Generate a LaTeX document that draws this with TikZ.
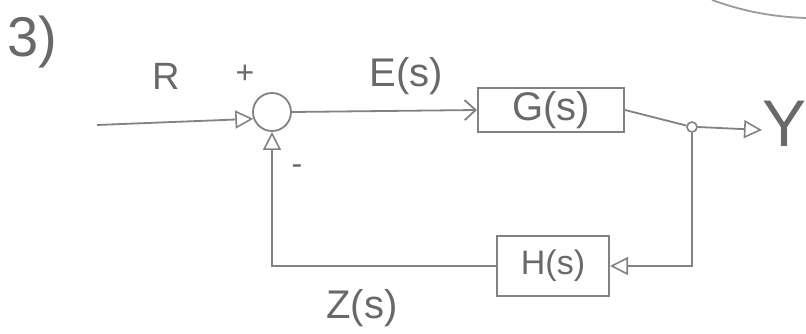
\documentclass[tikz,border=0pt]{standalone}
\usepackage{fontspec}
\setmainfont{Liberation Sans}
\usetikzlibrary{arrows.meta}
\definecolor{pencil}{RGB}{130,130,130}
\definecolor{pencilText}{RGB}{105,105,105}
\begin{document}
\begin{tikzpicture}[x=1pt,y=-1pt,
  line/.style={draw=pencil, line width=1.8pt},
  tri/.style={-{Triangle[open,length=18pt,width=18pt,line width=1.6pt]}},
  barb/.style={-{Straight Barb[length=11pt,width=20pt,line width=1.8pt]}},
  blk/.style={draw=pencil, line width=2pt, inner sep=0pt, text=pencilText},
  lbl/.style={text=pencilText, inner sep=0pt}]
\useasboundingbox[fill=white] (0,0) rectangle (806,334);

% title mark
\node[lbl, font=\fontsize{56}{58}\selectfont] (title) at (32,42) {3)};
% stray arc at top right
\draw[line, draw=pencil!80] (712,0) .. controls (745,12) and (775,17) .. (806,18);

% blocks
\node[circle, draw=pencil, line width=1.8pt, minimum size=38pt, inner sep=0pt] (sum) at (272,112) {};
\node[blk, minimum width=146pt, minimum height=44pt, font=\fontsize{40}{42}\selectfont] (G) at (551,110) {G(s)};
\node[blk, minimum width=112pt, minimum height=60pt, font=\fontsize{34}{36}\selectfont] (H) at (553,266) {H(s)};
\node[circle, draw=pencil, line width=1.6pt, minimum size=10pt, inner sep=0pt] (br) at (692,127) {};
\coordinate (in) at (97,125);
\coordinate (out) at (762,130);

% labels
\node[lbl, font=\fontsize{38}{40}\selectfont] (R) at (166,76) {R};
\node[lbl, font=\fontsize{32}{34}\selectfont] (plus) at (245,74) {+};
\node[lbl, font=\fontsize{32}{34}\selectfont] (minus) at (297,170) {-};
\node[lbl, font=\fontsize{40}{42}\selectfont] (E) at (406,76) {E(s)};
\node[lbl, font=\fontsize{40}{42}\selectfont] (Z) at (362,308) {Z(s)};
\node[lbl, font=\fontsize{66}{68}\selectfont] (Y) at (785,124) {Y};

% connectors
\draw[line, tri] (in) -- (sum.200);
\draw[line, barb] (sum.east) -- (G.west);
\draw[line] (G.east) -- (br);
\draw[line, tri] (br.east) -- (out);
\draw[line, tri] (br.south) |- (H.east);
\draw[line, tri] (H.west) -| (sum.south);
\end{tikzpicture}
\end{document}
